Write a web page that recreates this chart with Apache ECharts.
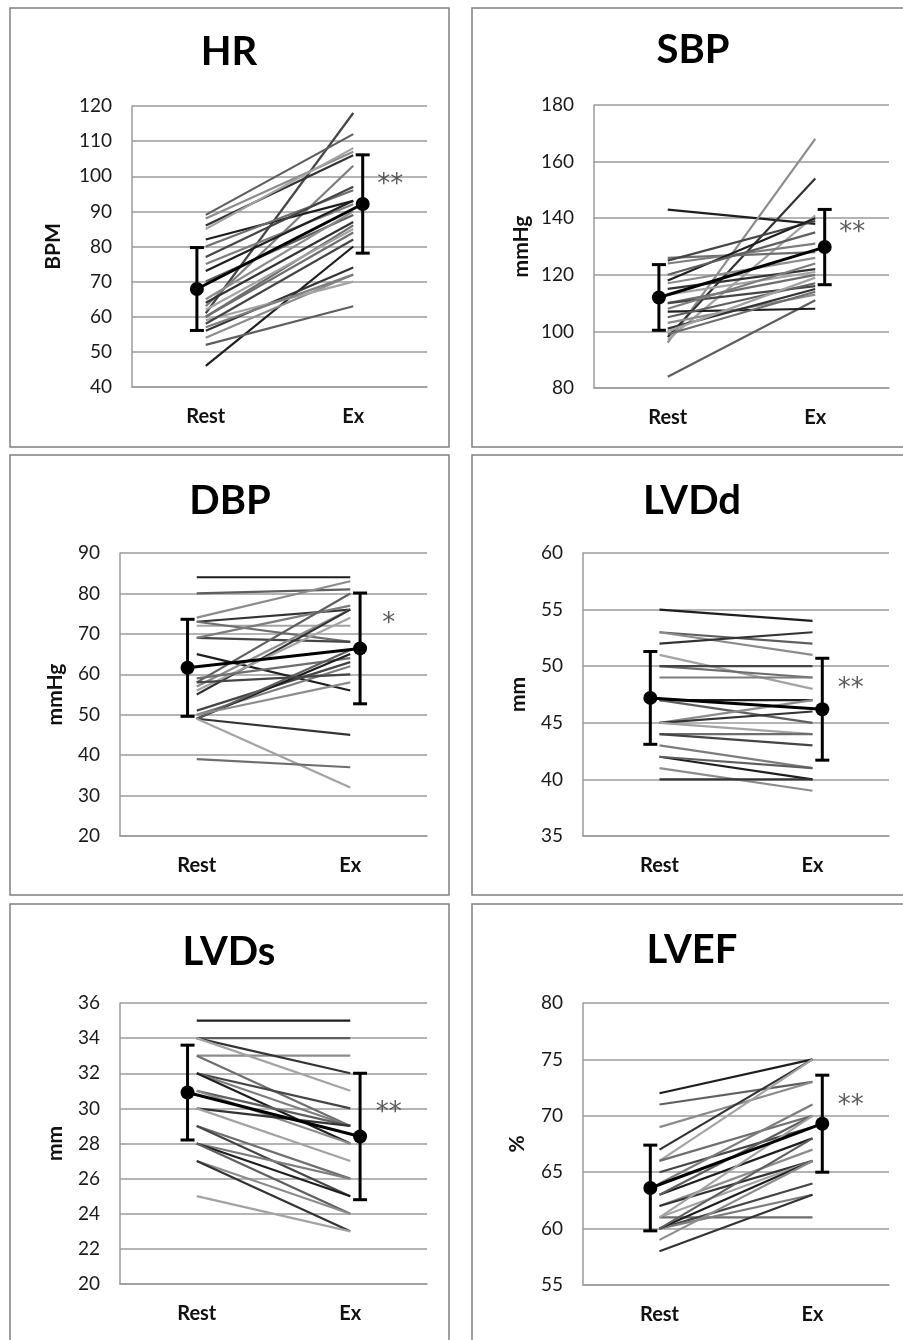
<!DOCTYPE html>
<html>
<head>
<meta charset="utf-8">
<title>Rest vs Ex</title>
<script src="https://cdn.jsdelivr.net/npm/echarts@6/dist/echarts.min.js"></script>
<style>
  html, body { margin: 0; padding: 0; background: #fff; }
  #main { width: 903px; height: 1340px; }
</style>
</head>
<body>
<div id="main"></div>
<script>
var categories = ['Rest', 'Ex'];
var titles = ['HR', 'SBP', 'DBP', 'LVDd', 'LVDs', 'LVEF'];
var units = ['BPM', 'mmHg', 'mmHg', 'mm', 'mm', '%'];
var yMin = [40, 80, 20, 35, 20, 55];
var yMax = [120, 180, 90, 60, 36, 80];
var yStep = [10, 20, 10, 5, 2, 5];

// each subject: value at rest and at exercise
var hrRest = [46, 52, 54, 56, 59, 60, 61, 63, 82, 89, 88, 86, 85, 80, 77, 75, 73, 70, 65, 64, 62, 60, 58, 57];
var hrEx   = [80, 63, 72, 74, 70, 86, 118, 103, 93, 112, 107, 106, 108, 96, 97, 92, 93, 89, 90, 87, 85, 84, 82, 72];

var sbpRest = [143, 84, 96, 98, 97, 126, 125, 124, 118, 120, 117, 115, 113, 110, 110, 108, 107, 105, 103, 101, 100, 99];
var sbpEx   = [138, 111, 168, 154, 141, 128, 139, 131, 140, 135, 126, 122, 121, 120, 116, 124, 108, 117, 113, 115, 119, 114];

var dbpRest = [84, 80, 74, 73, 72, 73, 69, 69, 65, 58, 57, 55, 56, 59, 51, 50, 49, 49, 50, 49, 49, 39, 58];
var dbpEx   = [84, 81, 83, 76, 72, 68, 68, 77, 56, 80, 76, 76, 74, 64, 63, 62, 65, 66, 58, 45, 32, 37, 60];

var lvddRest = [55, 53, 53, 52, 51, 50, 50, 49, 47, 47, 45, 45, 45, 44, 44, 43, 42, 42, 41, 40];
var lvddEx   = [54, 52, 51, 53, 48, 49, 50, 49, 47, 45, 47, 46, 44, 44, 43, 41, 40, 41, 39, 40];

var lvdsRest = [35, 34, 33, 34, 34, 33, 32, 32, 32, 31, 31, 30, 30, 29, 29, 28, 28, 28, 27, 27, 25];
var lvdsEx   = [35, 34, 33, 32, 31, 29, 30, 29, 28, 29, 28, 29, 27, 26, 25, 26, 25, 24, 24, 23, 23];

var lvefRest = [72, 71, 69, 67, 66, 66, 65, 64, 63, 63, 62, 62, 61, 61, 60, 60, 60, 60, 59, 58, 61];
var lvefEx   = [75, 73, 73, 75, 75, 70, 69, 71, 68, 70, 67, 66, 66, 61, 64, 63, 66, 68, 66, 63, 70];

// group mean and SD
var meanRest = [67.9, 112.0, 61.6, 47.2, 30.9, 63.6];
var meanEx   = [92.1, 129.8, 66.4, 46.2, 28.4, 69.3];
var sdRest   = [11.8, 11.6, 12.0, 4.1, 2.7, 3.8];
var sdEx     = [14.0, 13.3, 13.7, 4.5, 3.6, 4.3];

// significance marks and the value they sit at
var sigMark = ['**', '**', '*', '**', '**', '**'];
var sigAt   = [99.5, 137, 74, 48.6, 30.1, 71.5];

var restSets = [hrRest, sbpRest, dbpRest, lvddRest, lvdsRest, lvefRest];
var exSets = [hrEx, sbpEx, dbpEx, lvddEx, lvdsEx, lvefEx];

var FONT = 'Lato, "Open Sans", sans-serif';
var GRID_COLOR = '#9b9b9b';
var shades = ['#1e1e1e', '#5f5f5f', '#8c8c8c', '#333333', '#a3a3a3', '#6e6e6e', '#454545', '#7d7d7d'];

// layout of the six boxes
var panels = [
  { grid: { left: 132, top: 106, width: 295, height: 281 }, box: [10, 8, 439, 439], title: [229, 52], nameGap: 68 },
  { grid: { left: 594, top: 105, width: 295, height: 283 }, box: [472, 8, 443, 439], title: [693, 50], nameGap: 62 },
  { grid: { left: 120, top: 553, width: 307, height: 283 }, box: [10, 455, 439, 440], title: [230, 501], nameGap: 54 },
  { grid: { left: 583, top: 553, width: 306, height: 283 }, box: [472, 455, 443, 440], title: [692, 501], nameGap: 54 },
  { grid: { left: 120, top: 1003, width: 307, height: 281 }, box: [10, 904, 439, 450], title: [229, 952], nameGap: 54 },
  { grid: { left: 583, top: 1003, width: 306, height: 282 }, box: [472, 904, 443, 450], title: [692, 950], nameGap: 55 }
];
var MEAN_X = [0.22, 0.782];
var SIG_X = 0.875;

function renderErrBar(params, api) {
  var x = api.value(0), m = api.value(1), s = api.value(2);
  var top = api.coord([x, m + s]);
  var bot = api.coord([x, m - s]);
  var cw = 7;
  var st = { stroke: '#000', lineWidth: 3 };
  return {
    type: 'group',
    children: [
      { type: 'line', shape: { x1: top[0], y1: top[1], x2: bot[0], y2: bot[1] }, style: st },
      { type: 'line', shape: { x1: top[0] - cw, y1: top[1], x2: top[0] + cw, y2: top[1] }, style: st },
      { type: 'line', shape: { x1: bot[0] - cw, y1: bot[1], x2: bot[0] + cw, y2: bot[1] }, style: st }
    ]
  };
}

var grids = [], xAxes = [], yAxes = [], series = [], graphics = [];

panels.forEach(function (p, i) {
  grids.push(p.grid);

  graphics.push({
    type: 'rect', silent: true,
    shape: { x: p.box[0], y: p.box[1], width: p.box[2], height: p.box[3] },
    style: { fill: 'none', stroke: '#808080', lineWidth: 1.5 }
  });
  graphics.push({
    type: 'text', silent: true, x: p.title[0], y: p.title[1],
    style: {
      text: titles[i], fill: '#000', font: 'bold 40px ' + FONT,
      align: 'center', verticalAlign: 'middle', textAlign: 'center', textVerticalAlign: 'middle'
    }
  });

  xAxes.push({
    type: 'category', gridIndex: i, data: categories, boundaryGap: true,
    axisLine: { lineStyle: { color: GRID_COLOR, width: 1.5 } },
    axisTick: { show: false },
    axisLabel: { fontFamily: FONT, fontWeight: 'bold', fontSize: 20, color: '#111', margin: 20 }
  });
  xAxes.push({ type: 'value', gridIndex: i, min: 0, max: 1, show: false });

  yAxes.push({
    type: 'value', gridIndex: i, min: yMin[i], max: yMax[i], interval: yStep[i],
    axisLine: { show: true, lineStyle: { color: GRID_COLOR, width: 1.5 } },
    axisTick: { show: false },
    splitLine: { lineStyle: { color: GRID_COLOR, width: 1.5 } },
    axisLabel: { fontFamily: FONT, fontSize: 19, color: '#1a1a1a', margin: 20 },
    name: units[i], nameLocation: 'middle', nameGap: p.nameGap,
    nameTextStyle: { fontFamily: FONT, fontWeight: 'bold', fontSize: 21, color: '#111' }
  });

  var rest = restSets[i], ex = exSets[i];
  for (var j = 0; j < rest.length; j++) {
    series.push({
      type: 'line', xAxisIndex: 2 * i, yAxisIndex: i,
      data: [rest[j], ex[j]], symbol: 'none', silent: true, z: 2,
      lineStyle: { color: shades[j % shades.length], width: 2.2 }
    });
  }

  series.push({
    type: 'custom', xAxisIndex: 2 * i + 1, yAxisIndex: i, silent: true, z: 5,
    renderItem: renderErrBar, encode: { x: 0, y: 1 },
    data: [[MEAN_X[0], meanRest[i], sdRest[i]], [MEAN_X[1], meanEx[i], sdEx[i]]]
  });
  series.push({
    type: 'line', xAxisIndex: 2 * i + 1, yAxisIndex: i, silent: true, z: 6,
    data: [[MEAN_X[0], meanRest[i]], [MEAN_X[1], meanEx[i]]],
    symbol: 'circle', symbolSize: 14,
    itemStyle: { color: '#000' }, lineStyle: { color: '#000', width: 3 }
  });
  series.push({
    type: 'scatter', xAxisIndex: 2 * i + 1, yAxisIndex: i, silent: true, z: 6,
    data: [[SIG_X, sigAt[i]]], symbolSize: 1,
    itemStyle: { color: 'transparent' },
    label: {
      show: true, position: 'inside', offset: [0, 7], formatter: sigMark[i],
      fontFamily: '"DejaVu Sans", sans-serif', fontSize: 26, color: '#333'
    }
  });
});

var chart = echarts.init(document.getElementById('main'), null, { renderer: 'canvas' });
chart.setOption({
  animation: false,
  backgroundColor: '#fff',
  grid: grids,
  xAxis: xAxes,
  yAxis: yAxes,
  series: series,
  graphic: graphics
});
</script>
</body>
</html>
